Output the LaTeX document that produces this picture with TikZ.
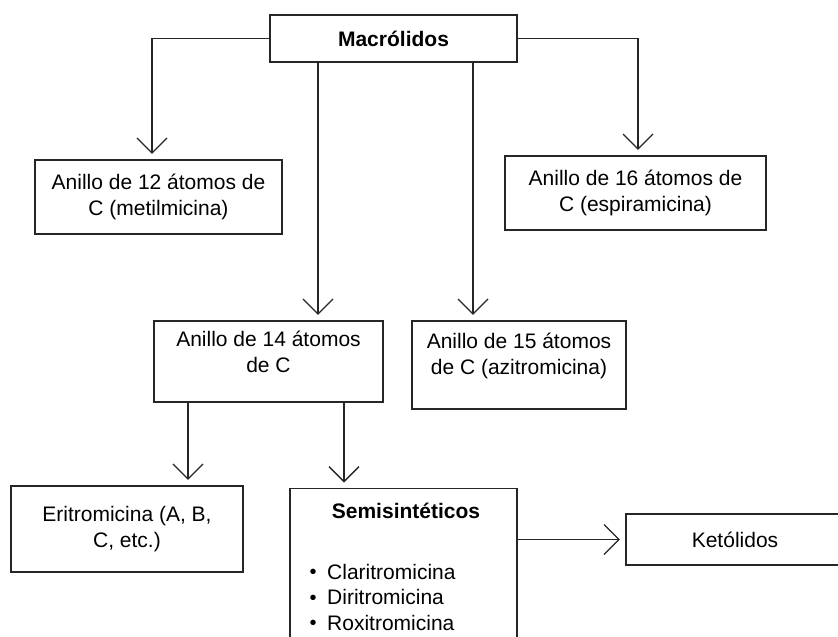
\documentclass[tikz,border=0pt]{standalone}
\usepackage{fontspec}
\setmainfont{Liberation Sans}
\usetikzlibrary{arrows.meta}
\newcommand{\bajo}[1]{\rule[-#1]{0pt}{#1}}
\newcommand{\punto}{\makebox[17.5pt][l]{\raisebox{0.5pt}{\fontsize{20}{20}\selectfont\textbullet}}}

\begin{document}
\begin{tikzpicture}
      [x=1pt,y=-1pt,
      box/.style={draw=black!85,line width=1.25pt,rectangle,inner sep=4pt,align=center,font=\fontsize{21}{26}\selectfont},
      texto/.style={inner sep=0pt,align=left,font=\fontsize{21}{25.5}\selectfont},
      flecha/.style={draw=black!85,line width=1.25pt,-{Straight Barb[length=15pt,width=30pt]},shorten >=5.5pt}
      ]
      \useasboundingbox (0,0) rectangle (838,637);
      \clip (0,0) rectangle (838,637);
      \node (macro) at (393.5,38.5) [box,minimum width=247pt,minimum height=47pt] {\textbf{Macrólidos}};
      \node (a12) at (158.5,197) [box,minimum width=247pt,minimum height=74pt] {Anillo de 12 átomos de\\C (metilmicina)};
      \node (a16) at (635.5,193) [box,minimum width=261pt,minimum height=74pt] {Anillo de 16 átomos de\\C (espiramicina)};
      \node (a14) at (268.5,361.5) [box,minimum width=229pt,minimum height=81pt] {Anillo de 14 átomos\\de C\bajo{19pt}};
      \node (a15) at (519,365) [box,minimum width=214pt,minimum height=88pt] {Anillo de 15 átomos\\de C (azitromicina)\bajo{23pt}};
      \node (eri) at (127,529) [box,minimum width=232pt,minimum height=86pt] {Eritromicina (A, B,\\C, etc.)};
      \node (semi) at (403.5,488) [box,anchor=north,minimum width=227pt,minimum height=200pt] {};
      \node (semititulo) at (406,511) [texto] {\textbf{Semisintéticos}};
      \node (semilista) at (309.5,597) [texto,anchor=west] {\punto Claritromicina\\\punto Diritromicina\\\punto Roxitromicina};
      \node (keto) at (735,539.5) [box,minimum width=218pt,minimum height=51pt] {Ketólidos};
      \draw [flecha] (macro.west) -| ([xshift=-6.5pt]a12.north);
      \draw [flecha] (macro.east) -| ([xshift=2.5pt]a16.north);
      \draw [flecha] ([xshift=-75.5pt]macro.south) -- ([xshift=-75.5pt]macro.south |- a14.north);
      \draw [flecha] ([xshift=79.5pt]macro.south) -- ([xshift=79.5pt]macro.south |- a15.north);
      \draw [flecha] ([xshift=-80.5pt]a14.south) -- ([xshift=-80.5pt]a14.south |- eri.north);
      \draw [flecha] ([xshift=75.5pt]a14.south) -- ([xshift=75.5pt]a14.south |- semi.north);
      \draw [flecha] (semi.east |- keto.west) -- (keto.west);
    \end{tikzpicture}
\end{document}
